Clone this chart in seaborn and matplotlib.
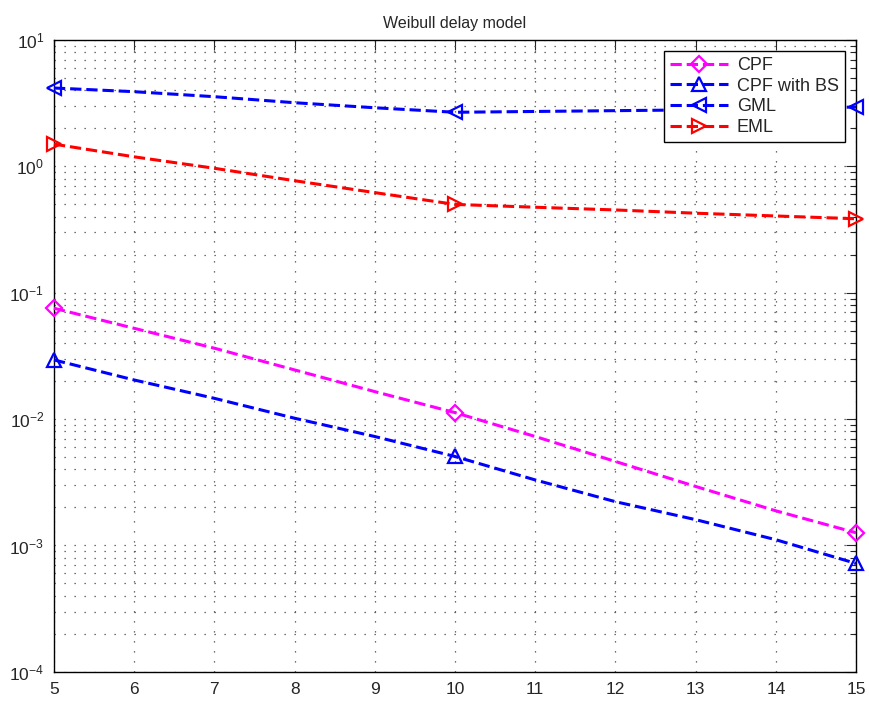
import numpy as np
import pandas as pd
import matplotlib
matplotlib.use("Agg")
import matplotlib.pyplot as plt
import seaborn as sns
from matplotlib.ticker import LogLocator, NullFormatter

x = list(range(5, 16))
cpf = [0.0754, 0.0523, 0.0364, 0.0245, 0.0165, 0.01125, 0.00728, 0.00462, 0.00293, 0.00188, 0.00126]
cpf_bs = [0.0294, 0.0204, 0.0146, 0.01016, 0.00728, 0.00506, 0.0033, 0.00222, 0.0016, 0.00111, 0.00072]
gml = [4.17, 3.90, 3.56, 3.19, 2.91, 2.68, 2.72, 2.76, 2.80, 2.86, 2.95]
eml = [1.50, 1.19, 0.966, 0.77, 0.62, 0.50, 0.475, 0.452, 0.426, 0.405, 0.385]

names = ["CPF", "CPF with BS", "GML", "EML"]
colors = ["#ff00ff", "#0000ff", "#0000ff", "#ff0000"]
markers = ["D", "^", "<", ">"]
msizes = [8, 10, 10, 10]

df = pd.DataFrame({"x": x * 4,
                   "y": cpf + cpf_bs + gml + eml,
                   "series": sum([[n] * len(x) for n in names], [])})

sns.set_style("white")
plt.rcParams['font.family'] = ['Liberation Sans', 'DejaVu Sans']

fig = plt.figure(figsize=(8.7, 7.02), dpi=100)
ax = fig.add_axes([0.062, 0.043, 0.922, 0.900])

for n, c, m, ms in zip(names, colors, markers, msizes):
    sub = df[df["series"] == n]
    sns.lineplot(data=sub, x="x", y="y", ax=ax, color=c, marker=m, markersize=ms,
                 markevery=5, markerfacecolor="none", markeredgecolor=c, markeredgewidth=1.6,
                 linewidth=2.2, linestyle="--", dashes=(5, 3.5), label=n, clip_on=False, zorder=3)

ax.set_yscale("log")
ax.set_xlim(5, 15)
ax.set_ylim(1e-4, 1e1)
ax.set_xticks(range(5, 16))
ax.yaxis.set_major_locator(LogLocator(base=10, numticks=10))
ax.yaxis.set_minor_locator(LogLocator(base=10, subs=np.arange(2, 10), numticks=100))
ax.yaxis.set_minor_formatter(NullFormatter())
ax.set_xlabel("")
ax.set_ylabel("")
ax.set_title("Weibull delay model", fontsize=11.5, pad=9)

dot = (0, (1, 7))
ax.grid(True, which="major", axis="both", linestyle=dot, color="#444444", linewidth=0.9)
ax.grid(True, which="minor", axis="y", linestyle=dot, color="#444444", linewidth=0.9)
ax.tick_params(axis="both", which="major", direction="in", length=7, labelsize=12.5,
               top=True, right=True, width=0.8, pad=7)
ax.tick_params(axis="y", which="minor", direction="in", length=4, right=True, width=0.8)
for s in ax.spines.values():
    s.set_linewidth(1.0)
    s.set_color("black")

leg = ax.legend(loc="upper right", fontsize=13, frameon=True, fancybox=False, framealpha=1,
                borderaxespad=0.6, handlelength=3.2, labelspacing=0.2, borderpad=0.35,
                handletextpad=0.5)
leg.get_frame().set_edgecolor("black")
leg.get_frame().set_linewidth(1.0)
leg.set_zorder(5)

fig.savefig("out.png", dpi=100)
